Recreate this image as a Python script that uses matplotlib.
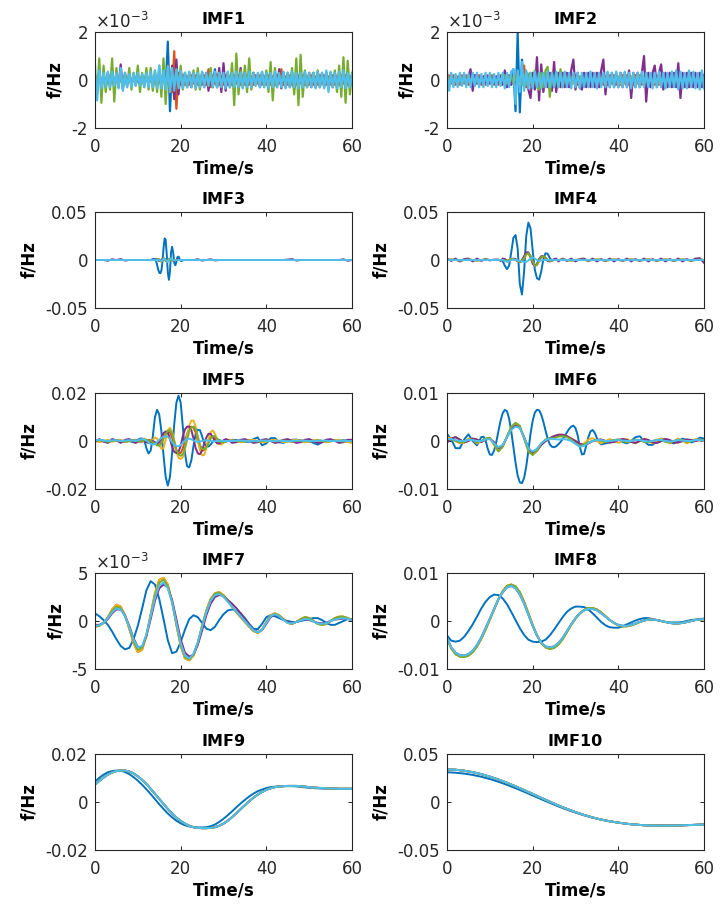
import numpy as np
import matplotlib.pyplot as plt

plt.rcParams['font.family'] = ['DejaVu Sans']
plt.rcParams['mathtext.fontset'] = 'dejavusans'

# MATLAB default line colours, in plotting order
COLORS = {
    "blue": "#0072BD",
    "orange": "#D95319",
    "yellow": "#EDB120",
    "purple": "#7E2F8E",
    "green": "#77AC30",
    "lblue": "#4DBEEE",
}
ORDER = ["blue", "orange", "yellow", "purple", "green", "lblue"]

# time grids (s)
t_fast = np.arange(0, 60.5, 0.5)
t_imf3 = np.concatenate([np.arange(0, 13, 1.0), np.arange(13, 21, 0.25), np.arange(21, 61, 1.0)])
t_imf4 = np.concatenate([np.arange(0, 12, 1.0), np.arange(12, 26, 0.5), np.arange(26, 61, 1.0)])
t_imf5 = np.concatenate([np.arange(0, 8, 1.0), np.arange(8, 32, 0.5), np.arange(32, 61, 1.0)])
t_imf6b = np.concatenate([np.arange(0, 8, 1.0), np.arange(8, 36, 0.5), np.arange(36, 61, 1.0)])
t_slow = np.arange(0, 61, 1.0)
t_trend = np.arange(0, 61, 2.0)

# ---------------- IMF1 (x 1e-3 Hz) ----------------
imf1_blue = [
    0.1, -0.15, 0.15, -0.1, 0.15, -0.15, 0.1, -0.15, 0.15, -0.1,
    0.15, -0.1, 0.1, -0.15, 0.15, -0.1, 0.1, -0.1, 0.15, -0.15,
    0.1, -0.1, 0.15, -0.1, 0.1, -0.15, 0.15, -0.1, 0.2, -0.2,
    0.2, -0.25, 0.3, -0.3, 1.6, -1.3, 0.5, -0.4, 0.3, -0.2,
    0.2, -0.15, 0.15, -0.1, 0.15, -0.15, 0.1, -0.15, 0.15, -0.1,
    0.1, -0.15, 0.15, -0.1, 0.2, -0.2, 0.45, -0.3, 0.2, -0.15,
    0.15, -0.1, 0.1, -0.15, 0.15, -0.1, 0.1, -0.15, 0.15, -0.1,
    0.1, -0.15, 0.15, -0.1, 0.15, -0.15, 0.1, -0.15, 0.15, -0.1,
    0.15, -0.1, 0.1, -0.15, 0.15, -0.1, 0.1, -0.1, 0.15, -0.15,
    0.1, -0.15, 0.15, -0.1, 0.15, -0.15, 0.1, -0.15, 0.15, -0.1,
    0.15, -0.1, 0.1, -0.15, 0.15, -0.1, 0.1, -0.1, 0.15, -0.15,
    0.1, -0.15, 0.15, -0.1, 0.15, -0.15, 0.1, -0.15, 0.15, -0.1,
    0.1,
]
imf1_orange = [
    0.2, -0.2, 0.15, -0.2, 0.2, -0.15, 0.2, -0.2, 0.15, -0.2,
    0.2, -0.2, 0.15, -0.2, 0.2, -0.15, 0.2, -0.2, 0.15, -0.2,
    0.2, -0.2, 0.15, -0.2, 0.2, -0.15, 0.2, -0.2, 0.15, -0.2,
    0.2, -0.2, 0.3, -0.3, 0.4, -0.4, -0.5, 1.2, -1.2, 0.3,
    -0.2, 0.2, -0.2, 0.15, -0.2, 0.2, -0.15, 0.2, -0.2, 0.15,
    -0.2, 0.2, -0.2, 0.45, -0.3, 0.2, -0.15, 0.2, -0.2, 0.15,
    -0.2, 0.2, -0.2, 0.15, -0.2, 0.2, -0.15, 0.2, -0.2, 0.15,
    -0.2, 0.2, -0.2, 0.15, -0.2, 0.2, -0.15, 0.2, -0.2, 0.15,
    -0.2, 0.2, -0.2, 0.15, -0.2, 0.2, -0.15, 0.45, -0.2, 0.15,
    -0.2, 0.2, -0.2, 0.15, -0.2, 0.2, -0.15, 0.2, -0.2, 0.15,
    -0.2, 0.2, -0.2, 0.15, -0.2, 0.2, -0.15, 0.2, -0.2, 0.15,
    -0.2, 0.2, -0.2, 0.15, -0.2, 0.2, -0.15, 0.2, -0.2, 0.15,
    -0.1,
]
imf1_yellow = [
    0.15, -0.15, 0.1, -0.15, 0.15, -0.1, 0.15, -0.15, 0.1, -0.15,
    0.15, -0.1, 0.15, -0.15, 0.1, -0.15, 0.15, -0.1, 0.15, -0.15,
    0.15, -0.15, 0.1, -0.15, 0.15, -0.1, 0.15, -0.15, 0.1, -0.15,
    0.15, -0.1, 0.15, -0.15, 0.2, -0.2, 0.15, -0.1, 0.15, -0.15,
    0.15, -0.15, 0.1, -0.15, 0.15, -0.1, 0.15, -0.15, 0.1, -0.15,
    0.15, -0.1, 0.15, -0.15, 0.1, -0.15, 0.15, -0.1, 0.15, -0.15,
    0.15, -0.15, 0.1, -0.15, 0.15, -0.1, 0.15, -0.15, 0.1, -0.15,
    0.15, -0.1, 0.15, -0.15, 0.1, -0.15, 0.15, -0.1, 0.15, -0.15,
    0.15, -0.15, 0.1, -0.15, 0.15, -0.1, 0.15, -0.15, 0.1, -0.15,
    0.15, -0.1, 0.15, -0.15, 0.1, -0.15, 0.15, -0.1, 0.15, -0.15,
    0.15, -0.15, 0.1, -0.15, 0.15, -0.1, 0.15, -0.15, 0.1, -0.15,
    0.15, -0.1, 0.15, -0.15, 0.1, -0.15, 0.15, -0.1, 0.15, -0.15,
    0.1,
]
imf1_purple = [
    0.2, -0.2, 0.3, -0.2, 0.2, -0.3, 0.3, -0.2, 0.4, -0.35,
    0.3, -0.3, 0.65, -0.4, 0.3, -0.2, 0.2, -0.2, 0.2, -0.2,
    0.2, -0.2, 0.2, -0.2, 0.3, -0.2, 0.2, -0.3, 0.2, -0.2,
    0.3, -0.3, 0.3, -0.3, 0.4, -0.5, 0.6, -0.8, 0.85, -0.6,
    0.4, -0.3, 0.3, -0.3, 0.3, -0.3, 0.3, -0.2, 0.2, -0.3,
    0.3, -0.3, 0.3, -0.45, 0.3, -0.3, 0.3, -0.3, 0.5, -0.5,
    0.7, -0.45, 0.3, -0.3, 0.3, -0.3, 0.3, -0.3, 0.5, -0.3,
    0.3, -0.3, 0.3, -0.3, 0.3, -0.2, 0.2, -0.3, 0.3, -0.2,
    0.3, -0.3, 0.3, -0.3, 0.3, -0.3, 0.45, -0.35, 0.3, -0.3,
    0.3, -0.3, 0.3, -0.4, 0.3, -0.3, 0.3, -0.3, 0.3, -0.3,
    0.3, -0.3, 0.3, -0.3, 0.35, -0.3, 0.3, -0.3, 0.3, -0.3,
    0.3, -0.3, 0.3, -0.3, 0.3, -0.3, 0.3, -0.3, 0.3, -0.3,
    0.2,
]
imf1_green = [
    0.2, -0.5, 0.9, -0.95, 0.6, -0.5, 0.3, -0.4, 0.9, -0.9,
    0.5, -0.3, 0.3, -0.2, 0.2, -0.3, 0.5, -0.4, 0.3, -0.2,
    0.6, -0.5, 0.3, -0.3, 0.5, -0.4, 0.5, -0.45, 0.4, -0.5,
    0.6, -0.7, 0.9, -1.0, 0.6, -0.5, 0.3, -0.2, 0.4, -0.3,
    0.6, -0.4, 0.3, -0.3, 0.3, -0.2, 0.4, -0.4, 0.5, -0.4,
    0.3, -0.2, 0.2, -0.2, 0.5, -0.3, 0.3, -0.3, 0.3, -0.2,
    0.2, -0.2, 0.3, -0.3, 0.7, -1.05, 1.1, -0.6, 0.4, -0.3,
    0.6, -0.5, 0.9, -0.4, 0.3, -0.2, 0.2, -0.2, 0.3, -0.3,
    0.4, -0.5, 0.75, -0.85, 0.5, -0.3, 0.2, -0.2, 0.3, -0.2,
    0.3, -0.3, 0.5, -0.6, 0.9, -1.05, 1.05, -0.7, 0.4, -0.3,
    0.3, -0.2, 0.3, -0.3, 0.4, -0.3, 0.2, -0.2, 0.3, -0.2,
    0.3, -0.3, 0.4, -0.5, 0.6, -0.7, 0.95, -0.95, 0.8, -0.6,
    0.3,
]
imf1_lblue = [
    0.65, -0.85, 0.4, -0.35, 0.3, -0.3, 0.35, -0.3, 0.35, -0.25,
    0.3, -0.35, 0.5, -0.45, 0.3, -0.3, 0.25, -0.3, 0.3, -0.25,
    0.3, -0.25, 0.25, -0.3, 0.3, -0.3, 0.35, -0.3, 0.4, -0.35,
    0.6, -0.35, 0.4, -0.4, 0.55, -0.5, 0.5, -0.45, 0.45, -0.35,
    0.4, -0.35, 0.3, -0.3, 0.35, -0.3, 0.3, -0.35, 0.3, -0.3,
    0.35, -0.3, 0.3, -0.25, 0.3, -0.3, 0.35, -0.3, 0.3, -0.3,
    0.3, -0.35, 0.35, -0.3, 0.3, -0.3, 0.35, -0.3, 0.3, -0.35,
    0.3, -0.3, 0.35, -0.3, 0.3, -0.25, 0.3, -0.3, 0.35, -0.3,
    0.3, -0.35, 0.3, -0.3, 0.35, -0.3, 0.3, -0.3, 0.35, -0.35,
    0.3, -0.3, 0.35, -0.3, 0.3, -0.35, 0.3, -0.3, 0.35, -0.3,
    0.3, -0.3, 0.3, -0.35, 0.35, -0.3, 0.3, -0.35, 0.4, -0.5,
    0.35, -0.3, 0.3, -0.35, 0.35, -0.3, 0.4, -0.35, 0.3, -0.3,
    0.25,
]

# ---------------- IMF2 (x 1e-3 Hz) ----------------
imf2_blue = [
    0.15, -0.1, 0.1, -0.15, 0.15, -0.1, 0.1, -0.15, 0.15, -0.1,
    0.1, -0.15, 0.15, -0.1, 0.1, -0.15, 0.15, -0.1, 0.1, -0.15,
    0.15, -0.1, 0.1, -0.15, 0.15, -0.1, 0.15, -0.15, 0.2, -0.2,
    0.2, 0.45, -1.3, 1.95, -1.35, 0.85, -0.3, 0.3, -0.2, 0.15,
    -0.15, 0.1, -0.15, 0.15, -0.1, 0.15, -0.15, 0.1, -0.15, 0.15,
    -0.1, 0.15, -0.15, 0.1, -0.15, 0.15, -0.1, 0.15, -0.15, 0.1,
    -0.15, 0.15, -0.1, 0.15, -0.15, 0.1, -0.15, 0.15, -0.1, 0.15,
    -0.15, 0.1, -0.15, 0.15, -0.1, 0.15, -0.15, 0.1, -0.15, 0.15,
    -0.1, 0.15, -0.15, 0.1, -0.15, 0.15, -0.1, 0.15, -0.15, 0.1,
    -0.15, 0.15, -0.1, 0.15, -0.15, 0.1, -0.15, 0.15, -0.1, 0.15,
    -0.15, 0.1, -0.15, 0.15, -0.1, 0.15, -0.15, 0.1, -0.15, 0.15,
    -0.1, 0.15, -0.15, 0.1, -0.15, 0.15, -0.1, 0.15, -0.15, 0.1,
    -0.1,
]
imf2_orange = [
    -0.2, 0.2, -0.15, 0.2, -0.2, 0.15, -0.2, 0.2, -0.15, 0.2,
    -0.2, 0.15, -0.2, 0.2, -0.15, 0.2, -0.2, 0.15, -0.2, 0.2,
    -0.15, 0.2, -0.2, 0.15, -0.2, 0.2, -0.15, 0.2, -0.2, 0.15,
    -0.2, 0.2, -0.25, 0.3, -0.3, 0.3, 0.6, -0.3, 0.2, -0.2,
    0.2, -0.15, 0.2, -0.2, 0.15, -0.2, 0.2, -0.15, 0.2, -0.2,
    0.15, -0.2, 0.2, -0.15, 0.2, -0.2, 0.15, -0.2, 0.2, -0.15,
    0.2, -0.2, 0.15, -0.2, 0.2, -0.15, 0.2, -0.2, 0.15, -0.2,
    0.2, -0.15, 0.2, -0.2, 0.15, -0.2, 0.2, -0.15, 0.2, -0.2,
    0.15, -0.2, 0.2, -0.15, 0.2, -0.2, 0.15, -0.2, 0.2, -0.15,
    0.2, -0.2, 0.15, -0.2, 0.2, -0.15, 0.2, -0.2, 0.15, -0.2,
    0.2, -0.15, 0.2, -0.2, 0.15, -0.2, 0.2, -0.15, 0.2, -0.2,
    0.15, -0.2, 0.2, -0.15, 0.2, -0.2, 0.15, -0.2, 0.2, -0.15,
    0.2,
]
imf2_yellow = [
    0.15, -0.1, 0.15, -0.15, 0.1, -0.15, 0.15, -0.1, 0.15, -0.15,
    0.1, -0.15, 0.15, -0.1, 0.15, -0.15, 0.1, -0.15, 0.15, -0.1,
    0.15, -0.15, 0.1, -0.15, 0.15, -0.1, 0.15, -0.15, 0.1, -0.15,
    0.15, -0.1, 0.15, -0.15, 0.1, -0.15, 0.15, -0.1, 0.15, -0.15,
    0.1, -0.15, 0.15, -0.1, 0.15, -0.15, 0.1, -0.15, 0.15, -0.1,
    0.15, -0.15, 0.1, -0.15, 0.15, -0.1, 0.15, -0.15, 0.1, -0.15,
    0.15, -0.1, 0.15, -0.15, 0.1, -0.15, 0.15, -0.1, 0.15, -0.15,
    0.1, -0.15, 0.15, -0.1, 0.15, -0.15, 0.1, -0.15, 0.15, -0.1,
    0.15, -0.15, 0.1, -0.15, 0.15, -0.1, 0.15, -0.15, 0.1, -0.15,
    0.15, -0.1, 0.15, -0.15, 0.1, -0.15, 0.15, -0.1, 0.15, -0.15,
    0.1, -0.15, 0.15, -0.1, 0.15, -0.15, 0.1, -0.15, 0.15, -0.1,
    0.15, -0.15, 0.1, -0.15, 0.15, -0.1, 0.15, -0.15, 0.1, -0.15,
    0.1,
]
imf2_purple = [
    0.15, -0.15, 0.1, -0.15, 0.15, -0.1, 0.15, -0.15, 0.1, -0.15,
    0.15, 0.45, -0.45, 0.2, -0.15, 0.1, -0.15, 0.15, -0.1, 0.15,
    -0.15, 0.1, -0.15, 0.15, -0.1, 0.15, -0.2, 0.4, -0.3, 0.2,
    -0.2, 0.2, -0.2, 0.3, -0.3, 0.35, -0.3, 0.3, -0.4, -0.75,
    0.3, -0.4, 0.95, -0.85, 0.65, -0.5, 0.3, -0.3, 0.3, -0.45,
    0.75, -0.5, 0.3, -0.3, 0.3, -0.3, 0.3, -0.3, 0.4, 0.85,
    -0.4, 0.3, -0.3, -0.4, 0.3, -0.3, 0.3, -0.3, 0.3, -0.3,
    0.3, -0.3, 0.4, 0.85, -0.6, 0.3, -0.3, 0.3, -0.3, 0.3,
    -0.3, 0.3, -0.3, 0.3, -0.3, 0.4, -0.75, 0.3, -0.3, 0.3,
    -0.3, 0.3, 1.0, -0.9, 0.3, -0.3, 0.3, 0.6, -0.3, 0.3,
    0.65, -0.4, 0.3, -0.3, 0.3, -0.3, 0.3, -0.3, 0.7, -0.75,
    0.3, -0.3, 0.3, -0.3, 0.3, -0.3, 0.3, -0.3, 0.3, -0.3,
    0.2,
]
imf2_green = [
    0.15, -0.15, 0.1, -0.15, 0.15, -0.1, 0.15, -0.15, 0.1, -0.15,
    0.15, -0.1, 0.15, -0.15, 0.1, -0.15, 0.15, -0.1, 0.15, -0.15,
    0.15, -0.15, 0.1, -0.15, 0.15, -0.1, 0.15, 0.2, -0.15, 0.15,
    0.15, -0.15, 0.2, -0.2, 0.15, -0.2, 0.2, -0.2, 0.25, 0.3,
    -0.3, 0.4, -0.3, -0.4, 0.3, -0.3, 0.4, 0.55, -0.7, 0.3,
    -0.3, 0.3, -0.3, 0.45, -0.3, 0.2, -0.2, 0.15, -0.15, 0.2,
    -0.15, 0.15, -0.1, 0.15, -0.15, 0.1, -0.15, 0.15, -0.1, 0.15,
    -0.15, 0.1, -0.15, 0.15, -0.1, 0.15, -0.15, 0.1, -0.15, 0.15,
    -0.1, 0.15, -0.15, 0.1, -0.15, 0.15, -0.1, 0.15, -0.15, 0.1,
    -0.15, 0.15, -0.1, 0.15, -0.15, 0.1, -0.15, 0.15, -0.1, 0.15,
    -0.15, 0.1, -0.15, 0.15, -0.1, 0.15, -0.15, 0.1, -0.15, 0.15,
    -0.1, 0.15, -0.15, 0.1, -0.15, 0.15, -0.1, 0.15, -0.15, 0.1,
    0.1,
]
imf2_lblue = [
    0.35, -0.45, 0.3, -0.3, 0.25, -0.3, 0.3, -0.25, 0.3, -0.3,
    0.25, -0.3, 0.3, -0.25, 0.3, -0.3, 0.25, -0.3, 0.3, -0.25,
    0.3, -0.3, 0.25, -0.3, 0.3, -0.25, 0.3, -0.35, 0.3, -0.3,
    0.35, 0.45, -1.0, 0.4, -0.5, 0.75, -0.45, 0.4, -0.35, 0.3,
    -0.35, 0.35, -0.3, 0.3, -0.35, 0.3, -0.3, 0.35, -0.3, 0.3,
    -0.3, 0.35, -0.3, 0.3, -0.3, 0.35, -0.3, 0.3, -0.35, 0.3,
    -0.3, 0.3, -0.35, 0.3, -0.3, 0.3, -0.3, 0.35, -0.3, 0.3,
    -0.35, 0.3, -0.3, 0.3, -0.3, 0.35, -0.3, 0.3, -0.3, 0.35,
    -0.3, 0.3, -0.3, 0.35, -0.3, 0.3, -0.35, 0.3, -0.3, 0.3,
    -0.3, 0.35, -0.3, 0.3, -0.3, 0.3, -0.35, 0.3, -0.3, 0.35,
    -0.3, 0.3, -0.35, 0.3, -0.3, 0.35, -0.3, 0.4, -0.4, 0.35,
    -0.35, 0.3, -0.35, 0.4, -0.3, 0.35, -0.35, 0.3, -0.4, 0.4,
    -0.35,
]

# ---------------- IMF3 (Hz) ----------------
imf3_blue = [
    0, 0, 0, 0, 0, 0, 0, 0, 0, 0, 0, 0, 0,
    0.0, 0.0005, 0.001, 0.0012, 0.0008, -0.001, -0.005, -0.010,
    -0.0133, -0.0138, -0.011, -0.002, 0.012, 0.0225, 0.021, 0.006,
    -0.013, -0.0207, -0.012, 0.008, 0.0138, 0.008, -0.003, -0.0055,
    -0.002, 0.003, 0.0035, 0.001, -0.0008, -0.001, -0.0003, 0.0,
    0, 0, 0, 0, 0, 0, 0, 0, 0, 0,
    0, 0, 0, 0, 0, 0, 0, 0, 0, 0,
    0, 0, 0, 0, 0, 0, 0, 0, 0, 0,
    0, 0, 0, 0, 0, 0, 0, 0, 0, 0,
]
imf3_mid = [
    0, 0, 0, 0, 0, 0, 0, 0, 0, 0, 0, 0, 0,
    0, 0, 0, 0, 0, 0, 0.0005, 0.001,
    0.0005, -0.001, -0.0015, 0, 0.0015, 0.001, -0.001, -0.0015,
    0, 0.001, 0.0005, -0.0005, -0.0005, 0, 0, 0,
    0, 0, 0, 0, 0, 0, 0, 0,
    0, 0, 0, 0, 0, 0, 0, 0, 0, 0,
    0, 0, 0, 0, 0, 0, 0, 0, 0, 0,
    0, 0, 0, 0, 0, 0, 0, 0, 0, 0,
    0, 0, 0, 0, 0, 0, 0, 0, 0, 0,
]
imf3_purple = [
    0, 0, 0, -0.0008, 0.0008, 0, 0.001, -0.0006, 0, 0, 0, 0, 0,
    0, 0, 0, 0, 0.0005, 0.001, 0.0005, -0.0005,
    -0.001, -0.0005, 0.0005, 0.001, 0.0015, 0.001, -0.0005, -0.0015,
    -0.001, 0.0005, 0.001, 0.0005, 0, -0.0005, -0.0008, -0.0003,
    0.0003, 0.0008, 0.0005, 0, 0, 0, 0, 0,
    0, 0, 0, 0.0008, -0.0006, 0, 0.0008, -0.0005, 0, 0,
    0, 0, 0, 0, 0, 0, 0, 0, 0, 0,
    0, 0, 0, 0, 0.0005, 0.001, -0.0006, 0, 0, 0,
    0, 0, 0, 0, 0, 0, 0, 0.0008, -0.0008, 0,
]
imf3_lblue = [
    0, 0, 0, 0, 0, 0, 0, 0, 0, 0, 0, 0, 0,
    0, 0, 0, 0, 0, 0, 0, 0,
    0, -0.0005, -0.001, 0, 0.001, 0.0015, 0, -0.0015,
    -0.002, -0.0005, 0.001, 0.0015, 0.0005, -0.0005, -0.0005, 0,
    0, 0, 0, 0, 0, 0, 0, 0,
    0, 0, 0, 0, 0, 0, 0, 0, 0, 0,
    0, 0, 0, 0, 0, 0, 0, 0, 0, 0,
    0, 0, 0, 0, 0, 0, 0, 0, 0, 0,
    0, 0, 0, 0, 0, 0, 0, 0, 0, 0,
]

# ---------------- IMF4 (Hz) ----------------
imf4_blue = [
    0, 0, 0, 0, 0, 0, 0, 0, 0, 0, 0, 0,
    0.0, 0.0, -0.001, -0.006, -0.0095, -0.006, 0.008, 0.023, 0.026, 0.012,
    -0.025, -0.036, -0.012, 0.025, 0.039, 0.033, 0.010, -0.010, -0.019, -0.0205,
    -0.012, 0.001, 0.007, 0.0065, 0.002, -0.0005, 0.0, 0.0,
    0, 0, 0, 0, 0, 0, 0, 0, 0, 0,
    0, 0, 0, 0, 0, 0, 0, 0, 0, 0,
    0, 0, 0, 0, 0, 0, 0, 0, 0, 0,
    0, 0, 0, 0, 0,
]
imf4_mid = [
    0, 0.0005, 0, -0.0005, 0, 0.0005, 0, -0.0005, 0, 0.0005, 0, 0,
    0, 0, 0, -0.0005, -0.001, 0, 0.001, 0.001, 0, -0.001, -0.002, -0.001,
    0.002, 0.006, 0.007, 0.004, -0.002, -0.006, -0.005, -0.001,
    0.003, 0.004, 0.002, 0, -0.001, -0.0005, 0, 0,
    0, 0.0005, 0, -0.0005, 0, 0.0005, 0, -0.0005, 0, 0.0005,
    0, -0.0005, 0, 0.0005, 0, -0.0005, 0, 0.0005, 0, -0.0005,
    0, 0.0005, 0, -0.0005, 0, 0.0005, 0, -0.0005, 0, 0.0005,
    0, -0.0005, 0, 0.0005, 0,
]
imf4_purple = [
    0.0015, -0.001, 0.0015, -0.0015, 0.001, 0.0015, -0.0015, 0.0015, -0.001, 0.001, -0.0005, 0.0005,
    0.0005, -0.001, 0.0015, 0.001, -0.001, -0.0015, 0.0005, 0.0015, 0.001, -0.001, -0.002, 0.0,
    0.004, 0.008, 0.008, 0.003, -0.004, -0.006, -0.004, 0.001,
    0.004, 0.004, 0.002, -0.001, -0.0015, -0.0005, 0.001, 0.0015,
    -0.0015, 0.0015, -0.001, 0.0015, -0.0015, 0.001, 0.0015, -0.001, 0.0015, -0.0015,
    0.001, -0.001, 0.0015, -0.0015, 0.001, -0.001, 0.0015, -0.0015, 0.001, -0.001,
    0.0015, -0.0015, 0.001, -0.001, 0.0015, -0.0015, 0.001, -0.001, 0.0015, -0.0015,
    0.001, -0.001, 0.0015, 0.002, -0.003,
]
imf4_lblue = [
    0, 0, 0, 0, 0, 0, 0, 0, 0, 0, 0, 0,
    0, 0, 0, -0.001, -0.002, -0.0015, 0, 0.0005, 0, -0.0005, -0.001, -0.0015,
    -0.002, -0.002, -0.0005, 0.0015, 0.0025, 0.0015, 0, -0.001,
    -0.0005, 0, 0, 0, 0, 0, 0, 0,
    0, 0, 0, 0, 0, 0, 0, 0, 0, 0,
    0, 0, 0, 0, 0, 0, 0, 0, 0, 0,
    0, 0, 0, 0, 0, 0, 0, 0, 0, 0,
    0, 0, 0, 0, 0,
]

# ---------------- IMF5 (Hz) ----------------
imf5_blue = [
    0.0003, 0.0005, 0.0002, -0.0003, 0, 0.0003, 0, -0.0002,
    0.0, -0.0003, -0.0005, 0.0, 0.0005, 0.001, 0.001, 0.0005,
    -0.003, -0.0052, -0.004, 0.002, 0.010, 0.013, 0.011, 0.004,
    -0.006, -0.015, -0.0186, -0.015, -0.005, 0.007, 0.016, 0.0189,
    0.016, 0.006, -0.005, -0.0105, -0.011, -0.008, -0.002, 0.003,
    0.0047, 0.0045, 0.002, -0.001, -0.0022, -0.0023, -0.0015, -0.0003,
    0.0005, 0.0007, 0.0004, 0.0, -0.0003, -0.0003, 0.0, 0.0003,
    0.0005, 0.0004, 0.0, -0.0004, -0.0003, 0.0008, 0.0015, -0.0018, -0.001, 0.0012,
    0.0012, -0.0005, -0.0008, 0.0, 0.0005, 0.0006, 0.0, -0.0005, 0.0, -0.0008,
    -0.0015, -0.0005, 0.0005, 0.0003, 0.0, 0.0002, 0.0003, 0.0002, 0.0002,
]
imf5_orange = [
    0, 0.0003, 0, -0.0003, 0, 0.0003, 0, -0.0003,
    0, 0, 0.0003, 0.0003, 0, -0.0003, -0.0003, 0,
    0.0003, 0.0005, 0.0003, -0.0003, -0.001, -0.0015, -0.0015, -0.0005,
    0.0015, 0.0033, 0.004, 0.0035, 0.0015, -0.0015, -0.004, -0.005,
    -0.005, -0.003, 0.0, 0.003, 0.0052, 0.006, 0.0055, 0.0035,
    0.0, -0.003, -0.004, -0.0038, -0.002, 0.0, 0.0015, 0.002,
    0.0012, 0.0, -0.0008, -0.0008, -0.0003, 0.0, 0.0002, 0.0002,
    0.0002, 0, -0.0003, 0, 0.0003, 0, -0.0003, 0, 0.0003, 0,
    -0.0003, 0, 0.0003, 0, -0.0003, 0, 0.0003, 0, -0.0003, 0,
    0.0003, 0, -0.0003, 0, 0.0003, 0, -0.0003, 0, 0.0002,
]
imf5_yellow = [
    0.0003, -0.0005, 0, 0.0005, -0.0003, 0, 0.0005, -0.0003,
    0, 0.0003, 0.0003, 0, -0.0003, 0, 0.0008, 0.001,
    0.0005, -0.0003, -0.0005, 0.0005, 0.0015, 0.001, -0.0015, -0.0033,
    -0.003, 0.0005, 0.0045, 0.0055, 0.004, 0.0, -0.0045, -0.007,
    -0.0075, -0.0068, -0.003, 0.002, 0.0065, 0.0085, 0.0085, 0.006,
    0.001, -0.004, -0.006, -0.0058, -0.003, 0.001, 0.0037, 0.0044,
    0.003, 0.0005, -0.0013, -0.0015, -0.0008, 0.0, 0.0005, 0.0005,
    0.0003, 0, -0.0005, -0.0003, 0.0003, 0.0005, 0, -0.0005, -0.0003, 0.0003,
    0.0005, 0, -0.0005, -0.0003, 0.0003, 0.0005, 0, -0.0005, -0.0003, 0.0003,
    0.0005, 0, -0.0005, -0.0003, 0.0003, 0.0005, 0, -0.0005, -0.0008,
]
imf5_purple = [
    -0.0005, 0.0008, -0.0003, -0.0008, 0.0008, 0.0003, -0.0008, 0.0005,
    0.0008, 0.0003, -0.0005, -0.0008, -0.0003, 0.0005, 0.0008, 0.0003,
    -0.0005, -0.0008, -0.0003, 0.0, -0.0005, -0.001, -0.0005, 0.0015,
    0.0033, 0.004, 0.0035, 0.001, -0.0025, -0.0045, -0.005, -0.0045,
    -0.002, 0.002, 0.0048, 0.006, 0.006, 0.0045, 0.001, -0.003,
    -0.0052, -0.0055, -0.004, -0.001, 0.0015, 0.003, 0.003, 0.0015,
    0.0, -0.001, -0.001, -0.0005, 0.0003, 0.0008, 0.0005, 0.0,
    -0.0008, -0.0005, 0.0005, 0.0008, 0, -0.0008, -0.0005, 0.0005, 0.0008, 0,
    -0.0008, -0.0005, 0.0005, 0.0008, 0, -0.0008, -0.0005, 0.0005, 0.0008, 0,
    -0.0008, -0.0005, 0.0005, 0.0008, 0, -0.0008, -0.0005, 0.0005, 0.0005,
]
imf5_green = [
    0, 0.0003, 0, -0.0003, 0, 0.0003, 0, -0.0003,
    0, 0, 0.0003, 0.0003, 0, -0.0003, 0, 0.0003,
    0.0005, 0.0003, 0, -0.0005, -0.0012, -0.0018, -0.002, -0.001,
    0.001, 0.003, 0.0043, 0.0045, 0.003, 0.0, -0.0035, -0.0055,
    -0.0062, -0.0055, -0.003, 0.0005, 0.004, 0.0057, 0.006, 0.005,
    0.002, -0.0015, -0.0033, -0.0035, -0.0028, -0.001, 0.001, 0.002,
    0.002, 0.001, 0.0, -0.0005, -0.0005, -0.0002, 0.0, 0.0002,
    0.0002, 0, -0.0002, 0, 0.0002, 0, -0.0002, 0, 0.0002, 0,
    -0.0002, 0, 0.0002, 0, -0.0002, 0, 0.0002, 0, -0.0002, 0,
    0.0002, 0, -0.0002, 0, 0.0002, 0, -0.0002, 0, 0.0,
]
imf5_lblue = [
    0.0003, 0.0005, 0.0002, 0, 0.0003, 0.0003, 0, 0.0002,
    0.0003, 0.0003, 0.0002, 0.0, 0.0003, 0.0006, 0.0008, 0.0007,
    0.0002, -0.0006, -0.0012, -0.0015, -0.0013, -0.0005, 0.0005, 0.0013,
    0.0018, 0.002, 0.0017, 0.0008, -0.0005, -0.0015, -0.0021, -0.0022,
    -0.0017, -0.0008, 0.0002, 0.0008, 0.001, 0.0007, 0.0002, -0.0002,
    -0.0003, -0.0002, 0.0, 0.0002, 0.0003, 0.0002, 0.0, -0.0001,
    -0.0001, 0.0, 0.0001, 0.0001, 0.0, 0.0, 0.0, 0.0,
    0.0, 0.0001, 0.0002, 0.0001, 0.0, -0.0001, 0.0, 0.0002, 0.0001, 0.0,
    0.0, 0.0001, 0.0, -0.0001, 0.0, 0.0001, 0.0002, 0.0001, 0.0, 0.0,
    0.0001, 0.0002, 0.0001, 0.0, 0.0, 0.0001, 0.0001, 0.0, 0.0,
]

# ---------------- IMF6 (Hz) ----------------
imf6_blue = [
    0.0015, 0.0003, -0.0015, -0.0015, 0.0003, 0.0014, 0.0, -0.0009,
    0.0008, 0.0009, 0.0002, -0.0016, -0.0028, -0.0029, -0.002, -0.0002, 0.002, 0.0042,
    0.0058, 0.0065, 0.0062, 0.0047, 0.002, -0.0012, -0.0045, -0.0072, -0.0086, -0.0088,
    -0.0077, -0.0053, -0.002, 0.0015, 0.0042, 0.0059, 0.0065, 0.0064, 0.0055, 0.004,
    0.0022, 0.0005, -0.0007, -0.0012, -0.0013, -0.0011, -0.0007, -0.0002, 0.0004, 0.0011,
    0.0018, 0.0025, 0.003, 0.0032, 0.0027, 0.0012, -0.0012, -0.0028, -0.0027, -0.001,
    0.0008, 0.002, 0.0023, 0.0017, 0.0006, -0.0003,
    -0.0007, -0.0005, -0.0003, 0.0002, 0.0003, -0.0002, -0.0005, 0.0, 0.0008, 0.001,
    0.0, -0.0008, -0.0008, 0.0, 0.0005, 0.0003, -0.0003, -0.0005, 0.0, 0.0005,
    0.0002, -0.0003, 0.0, 0.0007, 0.0005,
]
imf6_yellow = [
    0.0008, 0.0005, 0.0, -0.0005, -0.0003, 0.0005, 0.0003, -0.0005, 0.0, 0.0005,
    0.0006, -0.0008, -0.0021, -0.0012, 0.0009, 0.0028, 0.0035, 0.003, 0.0005, -0.002,
    -0.0029, -0.0021, -0.0006, 0.0003, 0.0006, 0.0008, 0.0012, 0.0013, 0.001, 0.0005,
    -0.0002, -0.0009, -0.0005, 0.0003, 0.0006, 0.0, -0.0005, 0.0, 0.0004, 0.0,
    -0.0004, 0.0, 0.0004, 0.0, -0.0005, 0.0, 0.0005, 0.0, -0.0005, 0.0,
    0.0005, 0.0, -0.0005, 0.0, 0.0005, 0.0, -0.0005, 0.0, 0.0004, 0.0002, 0.0,
]
imf6_purple = [
    -0.0003, 0.0005, 0.0008, 0.0003, -0.0003, 0.0, 0.0005, 0.0003, -0.0002, 0.0003,
    0.0005, -0.0003, -0.0015, -0.001, 0.0008, 0.0025, 0.0032, 0.0028, 0.0008, -0.0015,
    -0.0025, -0.002, -0.0008, 0.0, 0.0006, 0.001, 0.0013, 0.0013, 0.001, 0.0005,
    0.0, -0.0006, -0.0008, -0.0005, 0.0, 0.0002, 0.0003, 0.0, -0.0003, -0.0002,
    0.0002, 0.0004, 0.0002, -0.0002, -0.0004, 0.0, 0.0004, 0.0002, -0.0003, -0.0004,
    0.0, 0.0004, 0.0002, -0.0003, -0.0003, 0.0, 0.0003, 0.0002, 0.0, 0.0002, 0.0002,
]
imf6_green = [
    0.0005, 0.0003, 0.0, -0.0003, -0.0002, 0.0003, 0.0002, -0.0003, 0.0, 0.0005,
    0.0007, -0.0008, -0.0022, -0.0012, 0.001, 0.003, 0.0038, 0.0032, 0.0005, -0.0022,
    -0.0029, -0.002, -0.0005, 0.0003, 0.0005, 0.0006, 0.0009, 0.001, 0.0008, 0.0003,
    -0.0005, -0.001, -0.0008, -0.0003, 0.0, 0.0002, 0.0, -0.0002, 0.0, 0.0002,
    0.0003, 0.0, -0.0003, 0.0, 0.0003, 0.0002, -0.0002, -0.0003, 0.0, 0.0003,
    0.0002, -0.0002, -0.0003, 0.0, 0.0003, 0.0002, -0.0002, 0.0, 0.0002, 0.0003, 0.0002,
]
imf6_lblue = [
    0.0004, 0.0004, 0.0002, 0.0, 0.0, 0.0002, 0.0002, 0.0, 0.0, 0.0003,
    0.0004, -0.0005, -0.0013, -0.0008, 0.0008, 0.0023, 0.003, 0.0027, 0.0008, -0.0015,
    -0.0022, -0.0016, -0.0005, 0.0002, 0.0005, 0.0004, 0.0003, 0.0004, 0.0003, 0.0,
    -0.0006, -0.0012, -0.001, -0.0004, 0.0, 0.0002, 0.0002, 0.0, 0.0, 0.0001,
    0.0002, 0.0001, 0.0, 0.0, 0.0002, 0.0002, 0.0, -0.0001, 0.0, 0.0002,
    0.0002, 0.0, -0.0001, 0.0, 0.0002, 0.0001, 0.0, 0.0, 0.0002, 0.0002, 0.0001,
]

# ---------------- IMF7 (x 1e-3 Hz) ----------------
imf7_blue = [
    0.8, 0.5, 0.1, -0.4, -1.1, -1.9, -2.6, -2.95, -2.8, -1.9,
    -0.5, 1.3, 3.2, 4.15, 3.8, 2.3, 0.2, -2.0, -3.35, -3.2,
    -2.2, -0.9, 0.2, 0.6, 0.4, -0.2, -0.8, -0.95, -0.6, 0.1,
    0.7, 1.1, 1.2, 1.1, 0.8, 0.3, -0.3, -0.8, -0.85, -0.3,
    0.4, 0.6, 0.5, 0.3, 0.1, 0.0, -0.1, -0.1, 0.0, 0.1,
    0.2, 0.3, 0.3, 0.1, -0.2, -0.4, -0.4, -0.2, 0.0, 0.2, 0.2,
]
imf7_yellow = [
    -0.6, -0.5, -0.2, 0.4, 1.2, 1.7, 1.5, 0.6, -0.8, -2.3,
    -3.25, -3.0, -1.5, 0.7, 2.9, 4.3, 4.5, 3.8, 2.0, -0.4,
    -2.6, -3.9, -4.1, -3.6, -2.3, -0.5, 1.1, 2.3, 2.9, 3.0,
    2.7, 2.1, 1.5, 0.9, 0.4, -0.1, -0.6, -1.05, -1.25, -0.9,
    -0.1, 0.6, 0.8, 0.6, 0.2, -0.2, -0.3, -0.1, 0.2, 0.4,
    0.3, 0.0, -0.3, -0.4, -0.3, 0.0, 0.3, 0.45, 0.45, 0.3, 0.1,
]
imf7_purple = [
    -0.4, -0.4, -0.2, 0.2, 0.8, 1.2, 1.2, 0.6, -0.5, -1.8,
    -2.7, -2.7, -1.6, 0.2, 2.1, 3.4, 3.8, 3.5, 2.2, 0.2,
    -1.9, -3.3, -3.7, -3.5, -2.5, -1.0, 0.6, 1.8, 2.5, 2.7,
    2.6, 2.2, 1.8, 1.35, 0.8, 0.2, -0.4, -0.9, -1.15, -0.95,
    -0.3, 0.4, 0.65, 0.5, 0.15, -0.1, -0.2, -0.1, 0.05, 0.15,
    0.1, -0.05, -0.2, -0.25, -0.15, 0.0, 0.15, 0.2, 0.25, 0.2, 0.1,
]
imf7_green = [
    -0.55, -0.5, -0.2, 0.35, 1.05, 1.5, 1.35, 0.55, -0.7, -2.1,
    -3.0, -2.8, -1.45, 0.6, 2.65, 4.0, 4.3, 3.6, 1.95, -0.3,
    -2.45, -3.75, -4.0, -3.5, -2.25, -0.55, 1.0, 2.2, 2.85, 2.95,
    2.6, 2.05, 1.5, 0.95, 0.45, -0.05, -0.55, -1.0, -1.2, -0.9,
    -0.15, 0.55, 0.75, 0.55, 0.15, -0.2, -0.3, -0.1, 0.15, 0.4,
    0.3, 0.0, -0.3, -0.4, -0.3, 0.0, 0.3, 0.45, 0.45, 0.3, 0.1,
]
imf7_lblue = [
    -0.5, -0.45, -0.2, 0.3, 0.9, 1.3, 1.2, 0.5, -0.6, -1.9,
    -2.75, -2.6, -1.4, 0.5, 2.4, 3.7, 4.0, 3.4, 1.9, -0.2,
    -2.3, -3.6, -3.9, -3.4, -2.2, -0.6, 0.9, 2.1, 2.7, 2.8,
    2.5, 2.0, 1.5, 1.0, 0.5, 0.0, -0.5, -0.95, -1.2, -0.9,
    -0.2, 0.5, 0.7, 0.5, 0.1, -0.2, -0.25, -0.1, 0.05, 0.2,
    0.15, -0.05, -0.25, -0.3, -0.2, 0.0, 0.15, 0.25, 0.3, 0.2, 0.1,
]

# ---------------- IMF8 (Hz) ----------------
imf8_blue = [
    -0.003, -0.0041, -0.0043, -0.0041, -0.0033, -0.0021, -0.0007, 0.0009, 0.0026, 0.004,
    0.005, 0.0055, 0.0054, 0.0047, 0.0035, 0.0019, 0.0002, -0.0015, -0.0029, -0.0039,
    -0.0043, -0.0044, -0.0043, -0.0039, -0.003, -0.0018, -0.0005, 0.0008, 0.0019, 0.0026,
    0.003, 0.003, 0.0029, 0.0024, 0.0016, 0.0007, -0.0002, -0.0009, -0.0013, -0.0014,
    -0.0014, -0.0011, -0.0007, -0.0003, 0.0001, 0.0004, 0.0006, 0.0006, 0.0004, 0.0002,
    0.0, -0.0002, -0.0003, -0.0003, -0.0003, -0.0002, 0.0, 0.0002, 0.0003, 0.0004, 0.0005,
]
imf8_yellow = [
    -0.0036, -0.0057, -0.0069, -0.0074, -0.0075, -0.0072, -0.0065, -0.0053, -0.0037, -0.0018,
    0.0003, 0.0024, 0.0045, 0.0062, 0.0073, 0.0076, 0.0072, 0.006, 0.004, 0.0016,
    -0.0008, -0.003, -0.0046, -0.0055, -0.0058, -0.0056, -0.0049, -0.0038, -0.0023, -0.0008,
    0.0005, 0.0016, 0.0023, 0.0027, 0.0027, 0.0024, 0.0018, 0.001, 0.0002, -0.0004,
    -0.0009, -0.0011, -0.0011, -0.0009, -0.0006, -0.0002, 0.0001, 0.0003, 0.0003, 0.0002,
    0.0, -0.0002, -0.0004, -0.0005, -0.0005, -0.0004, -0.0002, 0.0, 0.0002, 0.0003, 0.0004,
]
imf8_lblue = [
    -0.0035, -0.0055, -0.0066, -0.0071, -0.0072, -0.0069, -0.0062, -0.005, -0.0034, -0.0015,
    0.0005, 0.0025, 0.0045, 0.006, 0.007, 0.0073, 0.0068, 0.0055, 0.0036, 0.0013,
    -0.001, -0.003, -0.0045, -0.0053, -0.0055, -0.0053, -0.0046, -0.0035, -0.0021, -0.0007,
    0.0006, 0.0016, 0.0022, 0.0025, 0.0025, 0.0022, 0.0016, 0.0009, 0.0002, -0.0004,
    -0.0008, -0.001, -0.001, -0.0008, -0.0005, -0.0002, 0.0001, 0.0003, 0.0003, 0.0002,
    0.0, -0.0002, -0.0004, -0.0005, -0.0005, -0.0004, -0.0002, 0.0, 0.0002, 0.0003, 0.0004,
]

# ---------------- IMF9 (Hz) ----------------
imf9_blue = [
    0.0085, 0.0101, 0.0114, 0.0124, 0.0129, 0.0131, 0.013, 0.0125, 0.0116, 0.0104,
    0.0089, 0.0072, 0.0053, 0.0033, 0.0012, -0.0009, -0.0029, -0.0048, -0.0064, -0.0078,
    -0.0089, -0.0097, -0.0102, -0.0105, -0.0106, -0.0106, -0.0105, -0.0101, -0.0094, -0.0083,
    -0.007, -0.0055, -0.0039, -0.0022, -0.0006, 0.0009, 0.0023, 0.0035, 0.0045, 0.0052,
    0.0058, 0.0062, 0.0064, 0.0065, 0.0066, 0.0066, 0.0066, 0.0065, 0.0063, 0.0061,
    0.0059, 0.0058, 0.0057, 0.0056, 0.0056, 0.0055, 0.0055, 0.0055, 0.0055, 0.0055, 0.0055,
]
imf9_rest = [
    0.0072, 0.0088, 0.0102, 0.0114, 0.0123, 0.0129, 0.0131, 0.0131, 0.0127, 0.0119,
    0.0107, 0.0092, 0.0075, 0.0055, 0.0034, 0.0013, -0.0008, -0.0029, -0.0048, -0.0065,
    -0.0079, -0.009, -0.0099, -0.0105, -0.0108, -0.0109, -0.0109, -0.0108, -0.0105, -0.0099,
    -0.009, -0.0078, -0.0063, -0.0047, -0.003, -0.0013, 0.0003, 0.0018, 0.0031, 0.0042,
    0.0051, 0.0057, 0.0062, 0.0064, 0.0066, 0.0067, 0.0067, 0.0067, 0.0066, 0.0064,
    0.0062, 0.006, 0.0059, 0.0058, 0.0057, 0.0056, 0.0056, 0.0055, 0.0055, 0.0055, 0.0055,
]

# ---------------- IMF10 (Hz) ----------------
imf10_blue = [
    0.031, 0.0305, 0.0296, 0.0282, 0.0263, 0.0239, 0.0211, 0.0179, 0.0144, 0.0107,
    0.0068, 0.0029, -0.0009, -0.0046, -0.008, -0.0111, -0.0139, -0.0163, -0.0184, -0.0201,
    -0.0215, -0.0227, -0.0236, -0.0242, -0.0245, -0.0246, -0.0246, -0.0244, -0.0241, -0.0238,
    -0.0235,
]
imf10_rest = [
    0.034, 0.0336, 0.0326, 0.0311, 0.029, 0.0264, 0.0234, 0.02, 0.0163, 0.0124,
    0.0084, 0.0043, 0.0003, -0.0036, -0.0072, -0.0105, -0.0135, -0.0161, -0.0183, -0.0201,
    -0.0215, -0.0227, -0.0236, -0.0242, -0.0245, -0.0246, -0.0246, -0.0244, -0.0241, -0.0238,
    -0.0235,
]

# title, time, series, y limit, y tick labels, exponent text
# a series given as (t, values) uses its own time grid
panels = [
    ("IMF1", t_fast, {"blue": imf1_blue, "orange": imf1_orange, "yellow": imf1_yellow,
                      "purple": imf1_purple, "green": imf1_green, "lblue": imf1_lblue},
     2, ["-2", "0", "2"], True),
    ("IMF2", t_fast, {"blue": imf2_blue, "orange": imf2_orange, "yellow": imf2_yellow,
                      "purple": imf2_purple, "green": imf2_green, "lblue": imf2_lblue},
     2, ["-2", "0", "2"], True),
    ("IMF3", t_imf3, {"blue": imf3_blue, "orange": imf3_mid, "yellow": imf3_mid,
                      "purple": imf3_purple, "green": imf3_mid, "lblue": imf3_lblue},
     0.05, ["-0.05", "0", "0.05"], False),
    ("IMF4", t_imf4, {"blue": imf4_blue, "orange": imf4_mid, "yellow": imf4_mid,
                      "purple": imf4_purple, "green": imf4_mid, "lblue": imf4_lblue},
     0.05, ["-0.05", "0", "0.05"], False),
    ("IMF5", t_imf5, {"blue": imf5_blue, "orange": imf5_orange, "yellow": imf5_yellow,
                      "purple": imf5_purple, "green": imf5_green, "lblue": imf5_lblue},
     0.02, ["-0.02", "0", "0.02"], False),
    ("IMF6", t_slow, {"blue": (t_imf6b, imf6_blue), "orange": imf6_purple, "yellow": imf6_yellow,
                      "purple": imf6_purple, "green": imf6_green, "lblue": imf6_lblue},
     0.01, ["-0.01", "0", "0.01"], False),
    ("IMF7", t_slow, {"blue": imf7_blue, "orange": imf7_yellow, "yellow": imf7_yellow,
                      "purple": imf7_purple, "green": imf7_green, "lblue": imf7_lblue},
     5, ["-5", "0", "5"], True),
    ("IMF8", t_slow, {"blue": imf8_blue, "orange": imf8_yellow, "yellow": imf8_yellow,
                      "purple": imf8_lblue, "green": imf8_yellow, "lblue": imf8_lblue},
     0.01, ["-0.01", "0", "0.01"], False),
    ("IMF9", t_slow, {"blue": imf9_blue, "orange": imf9_rest, "yellow": imf9_rest,
                      "purple": imf9_rest, "green": imf9_rest, "lblue": imf9_rest},
     0.02, ["-0.02", "0", "0.02"], False),
    ("IMF10", t_trend, {"blue": imf10_blue, "orange": imf10_rest, "yellow": imf10_rest,
                        "purple": imf10_rest, "green": imf10_rest, "lblue": imf10_rest},
     0.05, ["-0.05", "0", "0.05"], False),
]

TXT = "#262626"
fig = plt.figure(figsize=(7.23, 9.06), dpi=100)
col_left = [95 / 723, 447 / 723]
row_top = [32, 212, 393, 573, 754]

for i, (name, t, series, lim, ylabels, expo) in enumerate(panels):
    r, c = divmod(i, 2)
    ax = fig.add_axes([col_left[c], 1 - (row_top[r] + 96) / 906, 257 / 723, 96 / 906])
    lw = 1.6 if i < 2 else 1.4
    for key in ORDER:
        s = series[key]
        if isinstance(s, tuple):
            ax.plot(s[0], s[1], color=COLORS[key], lw=lw)
        else:
            ax.plot(t, s, color=COLORS[key], lw=lw)
    ax.set_xlim(0, 60)
    ax.set_ylim(-lim, lim)
    ax.set_xticks([0, 20, 40, 60])
    ax.set_yticks([-lim, 0, lim])
    ax.set_yticklabels(ylabels)
    ax.tick_params(direction="in", top=True, right=True, length=3, width=0.7,
                   labelsize=12, colors=TXT)
    ax.tick_params(axis="x", pad=7)
    ax.tick_params(axis="y", pad=5)
    for sp in ax.spines.values():
        sp.set_color(TXT)
        sp.set_linewidth(0.8)
    ax.set_title(name, fontsize=11.5, fontweight="bold", pad=6)
    ax.set_xlabel("Time/s", fontsize=12, fontweight="bold", labelpad=3)
    ax.set_ylabel("f/Hz", fontsize=12, fontweight="bold", labelpad=5)
    if expo:
        ax.text(0.0, 1.0, r"$\times10^{-3}$", transform=ax.transAxes,
                fontsize=12, color=TXT, ha="left", va="bottom")

fig.savefig("out.png", dpi=100)
